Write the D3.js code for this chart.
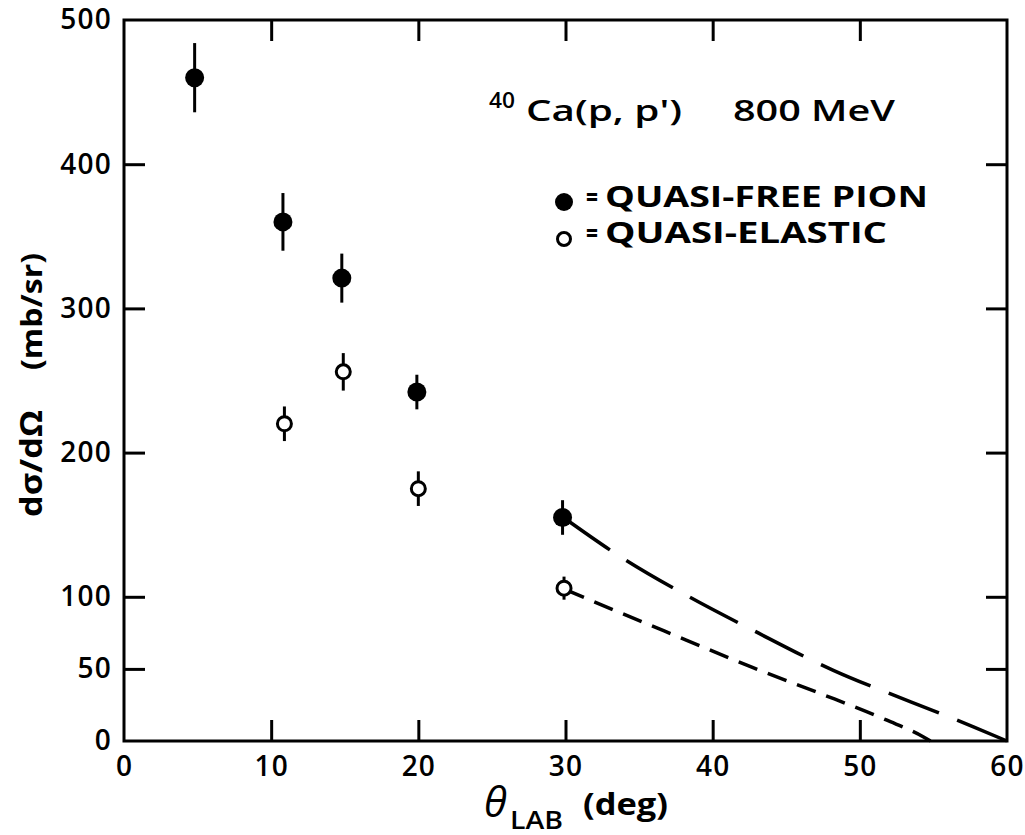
<!DOCTYPE html>
<html><head><meta charset="utf-8">
<script src="https://cdn.jsdelivr.net/npm/d3@7"></script>
<style>body{margin:0;background:#fff}svg{display:block}text{font-family:"Open Sans","DejaVu Sans",sans-serif;fill:#000}</style>
</head><body>
<svg id="c" width="1025" height="835"></svg>
<script>
const xTicks=[0,10,20,30,40,50,60];
const yTicks=[0,50,100,200,300,400,500];
// Quasi-free pion (filled)
const pionX=[4.8,10.8,14.8,19.9,29.8];
const pionY=[460,360,321,242,155];
const pionErr=[24,20,17,12,12];
// Quasi-elastic (open)
const elasX=[10.9,14.9,20.0,29.9];
const elasY=[220,256,175,106];
const elasErr=[12,13,12,8];
// Extrapolation curves
const pionCurveX=[30.0,33.7,38.4,42.7,48.2,53.5,57.8,60];
const pionCurveY=[154,128,100,77,49,27,9.5,0];
const elasCurveX=[30.0,33.7,38.2,42.7,47.3,51.8,54.3,54.8];
const elasCurveY=[105,89,70,51,33,14.6,3,0];

const svg=d3.select("#c");
const x=d3.scaleLinear().domain([0,60]).range([124,1007]);
const y=d3.scaleLinear().domain([0,500]).range([741,20]);
const sw=3;

// frame
svg.append("rect").attr("x",124).attr("y",20).attr("width",1007-124).attr("height",741-20)
 .attr("fill","none").attr("stroke","#000").attr("stroke-width",sw);

// axes via d3
const tl=21;
const gB=svg.append("g").attr("transform","translate(0,741)")
 .call(d3.axisBottom(x).tickValues(xTicks).tickSize(-tl).tickPadding(15).tickFormat(d3.format("d")));
const gT=svg.append("g").attr("transform","translate(0,20)")
 .call(d3.axisTop(x).tickValues(xTicks.slice(1,-1)).tickSize(-tl).tickFormat(""));
const gL=svg.append("g").attr("transform","translate(124,0)")
 .call(d3.axisLeft(y).tickValues(yTicks).tickSize(-tl).tickPadding(12).tickFormat(d3.format("d")));
const gR=svg.append("g").attr("transform","translate(1007,0)")
 .call(d3.axisRight(y).tickValues(yTicks.slice(1,-1)).tickSize(-tl).tickFormat(""));
[gB,gT,gL,gR].forEach(g=>{g.select(".domain").remove();
 g.selectAll(".tick line").attr("stroke","#000").attr("stroke-width",sw);
 g.selectAll("text").attr("font-size",28).attr("font-weight",600).attr("letter-spacing",1.2)
  .attr("font-family","'Open Sans',sans-serif").attr("fill","#000");});
gB.selectAll(".tick").filter(d=>d===0||d===60).select("line").remove();
gL.selectAll(".tick").filter(d=>d===0||d===500).select("line").remove();

// curves, dash pattern fitted so dashes start at the point and end on the axis
const line=d3.line().x(d=>x(d[0])).y(d=>y(d[1])).curve(d3.curveMonotoneX);
function dashed(xs,ys,a,g){
 const p=svg.append("path").attr("d",line(xs.map((v,i)=>[v,ys[i]])))
  .attr("fill","none").attr("stroke","#000").attr("stroke-width",3.5);
 const L=p.node().getTotalLength();
 const n=Math.max(2,Math.round((L+g)/(a+g)));
 const g2=(L-n*a)/(n-1);
 p.attr("stroke-dasharray",a+","+g2);
}
dashed(pionCurveX,pionCurveY,54,16);
dashed(elasCurveX,elasCurveY,20,12);

// error bars
function errs(xs,ys,es){
 svg.append("g").selectAll("line").data(xs).join("line")
  .attr("x1",(d)=>x(d)).attr("x2",(d)=>x(d))
  .attr("y1",(d,i)=>y(ys[i]+es[i])).attr("y2",(d,i)=>y(ys[i]-es[i]))
  .attr("stroke","#000").attr("stroke-width",3);
}
errs(pionX,pionY,pionErr);
errs(elasX,elasY,elasErr);
svg.append("g").selectAll("circle").data(pionX).join("circle")
 .attr("cx",d=>x(d)).attr("cy",(d,i)=>y(pionY[i])).attr("r",9.5).attr("fill","#000");
svg.append("g").selectAll("circle").data(elasX).join("circle")
 .attr("cx",d=>x(d)).attr("cy",(d,i)=>y(elasY[i])).attr("r",7).attr("fill","#fff").attr("stroke","#000").attr("stroke-width",3);

// title
svg.append("text").attr("x",489).attr("y",108).attr("font-size",22).attr("font-weight",600)
 .attr("textLength",26).attr("lengthAdjust","spacingAndGlyphs").text("40");
svg.append("text").attr("x",526).attr("y",121).attr("font-size",28).attr("font-weight",600)
 .attr("textLength",156).attr("lengthAdjust","spacingAndGlyphs").text("Ca(p, p')");
svg.append("text").attr("x",733).attr("y",121).attr("font-size",28).attr("font-weight",600)
 .attr("textLength",162).attr("lengthAdjust","spacingAndGlyphs").text("800 MeV");

// legend
svg.append("circle").attr("cx",564).attr("cy",202).attr("r",9).attr("fill","#000");
svg.append("circle").attr("cx",564).attr("cy",239).attr("r",6.5).attr("fill","#fff").attr("stroke","#000").attr("stroke-width",3);
[["QUASI-FREE PION",207,323],["QUASI-ELASTIC",243,282]].forEach(([s,by,len])=>{
 svg.append("text").attr("x",586).attr("y",by).attr("font-size",28).attr("font-weight",700)
  .attr("font-family","'DejaVu Sans',sans-serif")
  .attr("textLength",12).attr("lengthAdjust","spacingAndGlyphs").text("=");
 svg.append("text").attr("x",605).attr("y",by).attr("font-size",29).attr("font-weight",700)
  .attr("font-family","'DejaVu Sans',sans-serif")
  .attr("textLength",len).attr("lengthAdjust","spacingAndGlyphs").text(s);
});

// y label
svg.append("text").attr("transform","translate(42,517) rotate(-90)").attr("font-size",30).attr("font-weight",700)
 .attr("textLength",107).attr("lengthAdjust","spacingAndGlyphs").text("dσ/dΩ");
svg.append("text").attr("transform","translate(42,370) rotate(-90)").attr("font-size",28).attr("font-weight",700)
 .attr("textLength",117).attr("lengthAdjust","spacingAndGlyphs").text("(mb/sr)");

// x label
svg.append("text").attr("x",484).attr("y",817).attr("font-size",42).attr("font-style","italic")
 .attr("font-family","'DejaVu Serif',serif").text("θ");
svg.append("text").attr("x",510).attr("y",829).attr("font-size",25).attr("font-weight",600)
 .attr("textLength",53).attr("lengthAdjust","spacingAndGlyphs").text("LAB");
svg.append("text").attr("x",583).attr("y",815).attr("font-size",30).attr("font-weight",700)
 .attr("textLength",85).attr("lengthAdjust","spacingAndGlyphs").text("(deg)");
</script>
</body></html>
